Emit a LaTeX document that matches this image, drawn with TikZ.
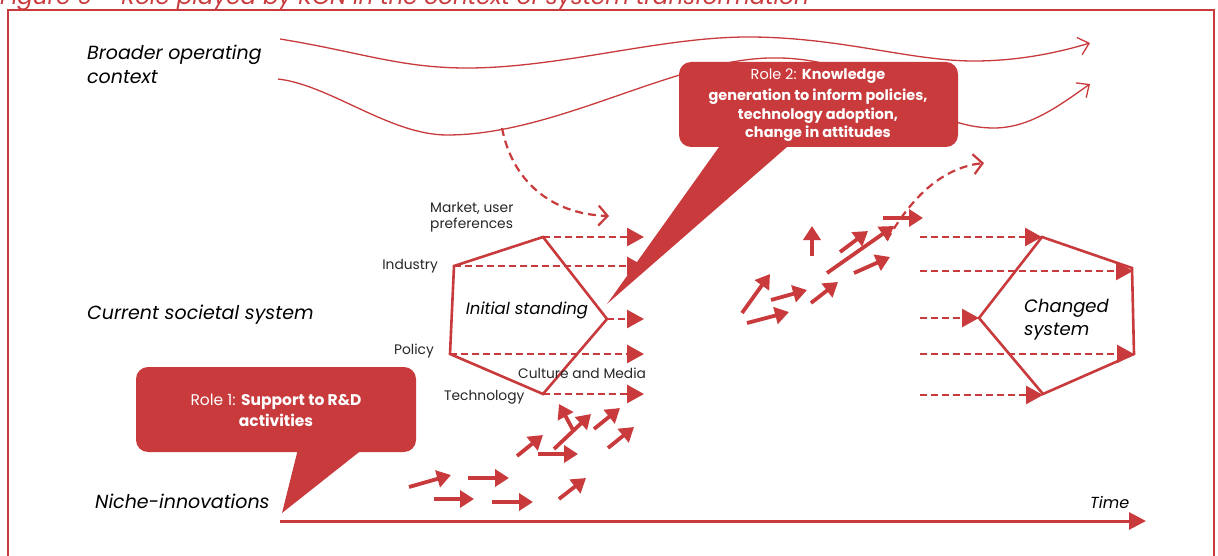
\documentclass[tikz,border=0pt]{standalone}
\usepackage{fontspec}
\setmainfont{Poppins}
\usetikzlibrary{arrows.meta,calc}
\definecolor{kcnred}{RGB}{200,58,60}

\begin{document}
\begin{tikzpicture}[x=1pt,y=-1pt,
  every node/.style={inner sep=0pt},
  lbl/.style={font=\fontsize{13.8}{16}\selectfont, text=black!85, align=left},
  heading/.style={font=\fontsize{19}{24}\selectfont\itshape, text=black, align=left},
  wave/.style={draw=kcnred, line width=1.3pt, -{Straight Barb[length=10pt,width=18pt,line width=1.3pt]}},
  rim/.style={draw=kcnred, line width=2.6pt, line join=miter},
  flow/.style={draw=kcnred, line width=2.6pt, dash pattern=on 7pt off 4pt, -{Triangle[length=17pt,width=18pt]}},
  drift/.style={draw=kcnred, line width=2.2pt, dash pattern=on 8pt off 5pt, -{Straight Barb[length=9pt,width=20pt,line width=2.2pt]}},
  push/.style={draw=kcnred, line width=3.8pt, -{Triangle[length=14pt,width=17pt]}},
  bubble/.style={fill=kcnred, rounded corners=12pt},
  roletext/.style={text=white, align=center}
]
\useasboundingbox (0,0) rectangle (1218,556);

% caption and frame
\node[anchor=base west, text=kcnred, font=\fontsize{23}{26}\selectfont\itshape] (title) at (0,5)
  {Figure 6 – Role played by KCN in the context of system transformation};
\draw[kcnred, line width=2pt] (8,600) |- (1214,10) -- (1214,600);

% row headings
\node[heading, anchor=west] (broad) at (87,64) {Broader operating\\context};
\node[heading, anchor=west] (current) at (87,315) {Current societal system};
\node[heading, anchor=west] (niche) at (95,501) {Niche-innovations};
\node[heading, anchor=west, font=\fontsize{16}{20}\selectfont\itshape] (time) at (1090,502) {Time};

% time axis
\coordinate (t0) at (280,521);
\coordinate (t1) at (1146,521);
\draw[kcnred, line width=3pt, -{Triangle[length=17pt,width=17pt]}] (t0) -- (t1);

% broader context waves
\draw[wave] (280,39) .. controls (360,52) and (400,68) .. (467,68)
  .. controls (560,68) and (660,37) .. (748,37)
  .. controls (840,37) and (910,61) .. (974,61)
  .. controls (1020,61) and (1060,52) .. (1090,43);
\draw[wave] (278,79) .. controls (330,85) and (390,135) .. (447,135)
  .. controls (560,135) and (680,55) .. (780,58)
  .. controls (880,60) and (920,128) .. (994,128)
  .. controls (1030,128) and (1060,105) .. (1090,84);

% pressure from the broader context
\coordinate (d1s) at (502,128);
\coordinate (d1e) at (609,216);
\draw[drift] (d1s) .. controls (512,180) and (550,214) .. (d1e);
\coordinate (d2s) at (887,240);
\coordinate (d2e) at (984,163);
\draw[drift] (d2s) .. controls (910,200) and (940,168) .. (d2e);

% initial standing pentagon
\coordinate (mk) at (543,237);
\coordinate (ind) at (454,266);
\coordinate (pol) at (450,354);
\coordinate (tec) at (543,394);
\coordinate (cul) at (607,319);
\draw[rim] (mk) -- (ind) -- (pol) -- (tec) -- (cul) -- cycle;
\node[font=\fontsize{16.5}{20}\selectfont\itshape] (init) at (527,310) {Initial standing};

\coordinate (mk2) at (644,237);
\coordinate (ind2) at (644,266);
\coordinate (cul2) at (644,319);
\coordinate (pol2) at (644,354);
\coordinate (tec2) at (644,394);
\draw[flow] (mk) -- (mk2);
\draw[flow] (ind) -- (ind2);
\draw[flow] (cul) -- (cul2);
\draw[flow] (pol) -- (pol2);
\draw[flow] (tec) -- (tec2);

\node[lbl, anchor=west] (lmk) at (430,217) {Market, user\\preferences};
\node[lbl, anchor=east] (lind) at (438,266) {Industry};
\node[lbl, anchor=east] (lpol) at (434,351) {Policy};
\node[lbl, anchor=west] (lcul) at (518,373) {Culture and Media};
\node[lbl, anchor=west] (ltec) at (444,397) {Technology};

% niche innovations
\draw[push] (409,487) -- (451,475);
\draw[push] (468,478) -- (509,478);
\draw[push] (434,499) -- (474,499);
\draw[push] (492,502) -- (533,502);
\draw[push] (559,499) -- (586,478);
\draw[push] (517,456) -- (543,435);
\draw[push] (538,454) -- (578,454);
\draw[push] (554,449) -- (591,414);
\draw[push] (573,430) -- (559,404);
\draw[push] (594,429) -- (620,408);
\draw[push] (608,448) -- (634,427);

% innovations gaining momentum
\draw[push] (742,313) -- (770,274);
\draw[push] (747,323) -- (789,312);
\draw[push] (771,300) -- (807,290);
\draw[push] (811,303) -- (838,282);
\draw[push] (812,256) -- (812,226);
\draw[push] (827,273) -- (894,226);
\draw[push] (840,252) -- (868,231);
\draw[push] (854,273) -- (890,257);
\draw[push] (883,218) -- (923,218);

% changed system pentagon
\coordinate (ctop) at (1042,237);
\coordinate (crt) at (1132,268);
\coordinate (crb) at (1134,354);
\coordinate (cbot) at (1043,394);
\coordinate (clft) at (979,318);
\draw[rim] (ctop) -- (crt) -- (crb) -- (cbot) -- (clft) -- cycle;
\node[font=\fontsize{18}{23}\selectfont\itshape, anchor=west, align=left] (chg) at (1024,320) {Changed\\system};

\coordinate (c1) at (920,237);
\coordinate (c2) at (920,271);
\coordinate (c3) at (920,318);
\coordinate (c4) at (920,354);
\coordinate (c5) at (920,395);
\draw[flow] (c1) -- (ctop);
\draw[flow] (c2) -- (1133,271);
\draw[flow] (c3) -- (clft);
\draw[flow] (c4) -- (crb);
\draw[flow] (c5) -- (1043,395);

% role 2 callout
\fill[bubble] (679,62) rectangle (958,147);
\fill[kcnred] (724,140) -- (607,304) -- (795,140) -- cycle;
\node[roletext, font=\fontsize{14.5}{18.5}\selectfont] (role2) at (818,105)
  {Role 2: \textbf{Knowledge}\\[3pt]\textbf{generation to inform policies,}\\\textbf{technology adoption,}\\\textbf{change in attitudes}};

% role 1 callout
\fill[bubble] (136,367) rectangle (416,452);
\fill[kcnred] (299,445) -- (282,513) -- (368,445) -- cycle;
\node[roletext, font=\fontsize{15.5}{21}\selectfont] (role1) at (276,410) {Role 1: \textbf{Support to R\&D}\\\textbf{activities}};
\end{tikzpicture}
\end{document}
